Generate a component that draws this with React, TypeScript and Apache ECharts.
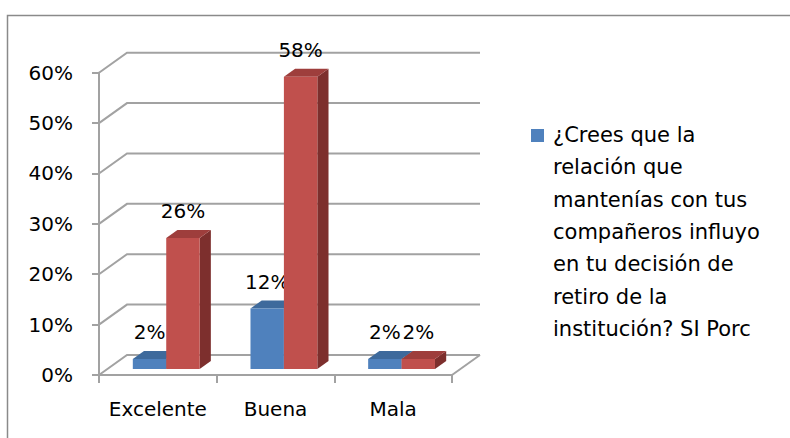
import { useEffect, useRef } from "react";
import * as echarts from "echarts";

const categories = ["Excelente", "Buena", "Mala"];
const siValues = [0.02, 0.12, 0.02];
const noValues = [0.26, 0.58, 0.02];
const yTicks = [0, 0.1, 0.2, 0.3, 0.4, 0.5, 0.6];
const legendLines = [
  "¿Crees que la",
  "relación que",
  "mantenías con tus",
  "compañeros influyo",
  "en tu decisión de",
  "retiro de la",
  "institución? SI Porc",
];
const siName = legendLines.join(" ");
const noName = "¿Crees que la relación que mantenías con tus compañeros influyo en tu decisión de retiro de la institución? NO Porc";

const FONT = "DejaVu Sans";
const GRAY = "#A2A2A2";
const DEPTH_X = 28;
const DEPTH_Y = -20;
const BAR_FRONT = 0.3;
const BAR_DEPTH = 0.4;
const BAR_W_FRAC = 0.284;

const palette = {
  si: { front: "#4F81BD", top: "#3E6A9C", side: "#385D8A" },
  no: { front: "#C0504D", top: "#9E3E3C", side: "#7D2F2D" },
};

function fmtPct(v: number) {
  return Math.round(v * 100) + "%";
}

function makeBarRender(seriesIdx: number, col: { front: string; top: string; side: string }) {
  return (params: any, api: any) => {
    const i = api.value(0);
    const v = api.value(1);
    const top = api.coord([i, v]);
    const base = api.coord([i, 0]);
    const bw = api.size([1, 0])[0];
    const barW = bw * BAR_W_FRAC;
    const ox = DEPTH_X * BAR_FRONT;
    const oy = DEPTH_Y * BAR_FRONT;
    const dx = DEPTH_X * BAR_DEPTH;
    const dy = DEPTH_Y * BAR_DEPTH;
    const cx = base[0] + ox;
    const xl = seriesIdx === 0 ? cx - barW : cx;
    const xr = xl + barW;
    const yt = top[1] + oy;
    const yb = base[1] + oy;
    return {
      type: "group",
      children: [
        {
          type: "polygon",
          shape: { points: [[xr, yt], [xr + dx, yt + dy], [xr + dx, yb + dy], [xr, yb]] },
          style: { fill: col.side },
        },
        {
          type: "polygon",
          shape: { points: [[xl, yt], [xl + dx, yt + dy], [xr + dx, yt + dy], [xr, yt]] },
          style: { fill: col.top },
        },
        {
          type: "rect",
          shape: { x: xl, y: yt, width: barW, height: yb - yt },
          style: { fill: col.front },
        },
        {
          type: "text",
          x: xl + barW / 2,
          y: yt + dy - 19,
          style: {
            text: fmtPct(v),
            fill: "#000",
            font: `20px "${FONT}"`,
            align: "center",
            verticalAlign: "middle",
          },
        },
      ],
    };
  };
}

export default function App() {
  const ref = useRef<HTMLDivElement>(null);
  useEffect(() => {
    document.body.style.margin = "0";
    const chart = echarts.init(ref.current!, null, { renderer: "svg" });
    const wallRender = (params: any, api: any) => {
      const v = api.value(1);
      const p = api.coord([0, v]);
      const bw = api.size([1, 0])[0];
      const x0 = p[0] - bw / 2;
      const x1 = x0 + bw * categories.length;
      const children: any[] = [
        {
          type: "polyline",
          shape: { points: [[x0, p[1]], [x0 + DEPTH_X, p[1] + DEPTH_Y], [x1 + DEPTH_X, p[1] + DEPTH_Y]] },
          style: { stroke: GRAY, lineWidth: 2, fill: "none" },
        },
      ];
      if (v === 0) {
        children.push({
          type: "line",
          shape: { x1: x1, y1: p[1], x2: x1 + DEPTH_X, y2: p[1] + DEPTH_Y },
          style: { stroke: GRAY, lineWidth: 2 },
        });
      }
      return { type: "group", children };
    };
    chart.setOption({
      animation: false,
      backgroundColor: "#fff",
      grid: { left: 99, top: 72.7, width: 353, height: 302.3 },
      xAxis: {
        type: "category",
        data: categories,
        axisLine: { show: true, lineStyle: { color: GRAY, width: 2 } },
        axisTick: { show: true, length: 8, lineStyle: { color: GRAY, width: 2 } },
        axisLabel: {
          interval: 0,
          hideOverlap: false,
          margin: 24,
          color: "#000",
          fontFamily: FONT,
          fontSize: 20,
        },
      },
      yAxis: {
        type: "value",
        min: 0,
        max: 0.6,
        interval: 0.1,
        axisLine: { show: true, lineStyle: { color: GRAY, width: 2 } },
        axisTick: { show: true, length: 7, lineStyle: { color: GRAY, width: 2 } },
        splitLine: { show: false },
        axisLabel: {
          margin: 26,
          color: "#000",
          fontFamily: FONT,
          fontSize: 20,
          formatter: (v: number) => fmtPct(v),
        },
      },
      series: [
        {
          type: "custom",
          name: "walls",
          silent: true,
          z: 1,
          renderItem: wallRender,
          data: yTicks.map((t) => [0, t]),
        },
        {
          type: "custom",
          name: siName,
          z: 2,
          renderItem: makeBarRender(0, palette.si),
          data: siValues.map((v, i) => [i, v]),
        },
        {
          type: "custom",
          name: noName,
          z: 3,
          renderItem: makeBarRender(1, palette.no),
          data: noValues.map((v, i) => [i, v]),
        },
      ],
      graphic: [
        {
          type: "rect",
          shape: { x: 7.5, y: 15.5, width: 900, height: 600 },
          style: { fill: "none", stroke: "#8A8A8A", lineWidth: 1.5 },
          silent: true,
        },
        {
          type: "rect",
          shape: { x: 531, y: 129, width: 13, height: 13 },
          style: { fill: palette.si.front },
        },
        {
          type: "text",
          x: 553,
          y: 119,
          style: {
            text: legendLines.join("\n"),
            font: `21px "${FONT}"`,
            lineHeight: 32.3,
            fill: "#000",
            verticalAlign: "top",
          },
        },
      ],
    });
    return () => chart.dispose();
  }, []);
  return <div ref={ref} style={{ width: 790, height: 438 }} />;
}
